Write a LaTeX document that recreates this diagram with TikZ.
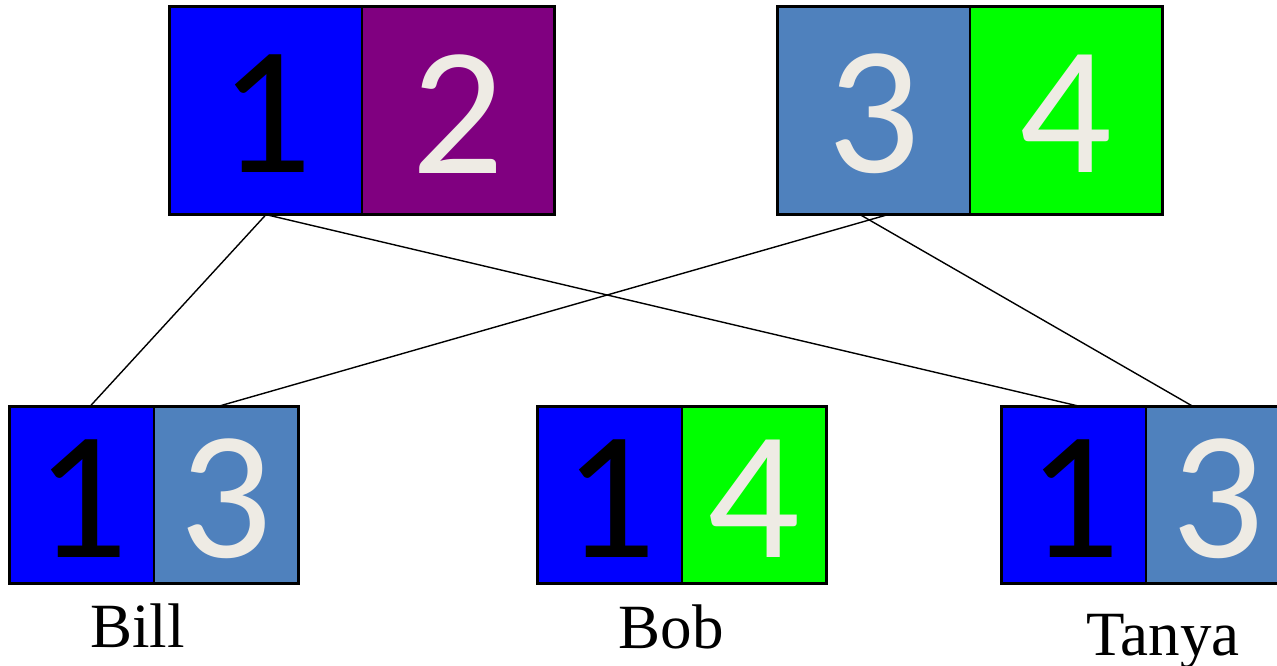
\documentclass[tikz,border=0pt]{standalone}
\usepackage{fontspec}
\setmainfont{Liberation Serif}
\newfontfamily\digitfont{Carlito}
\definecolor{cellblue}{RGB}{0,0,255}
\definecolor{cellpurple}{RGB}{128,0,128}
\definecolor{cellsteel}{RGB}{79,129,189}
\definecolor{cellgreen}{RGB}{0,255,0}
\definecolor{digitwhite}{RGB}{238,235,228}

\begin{document}
\begin{tikzpicture}[x=1pt,y=-1pt,
  bigcell/.style={draw=black,line width=1.2pt,inner sep=0pt,
    minimum width=192pt,minimum height=207pt},
  smallcell/.style={draw=black,line width=1.2pt,inner sep=0pt,
    minimum width=144pt,minimum height=176pt},
  digitlabel/.style={inner sep=0pt,font=\fontsize{183}{183}\digitfont,yshift=-3.5pt},
  boxframe/.style={draw=black,line width=2pt},
  linkline/.style={draw=black,line width=1.4pt},
  personlabel/.style={anchor=base,inner sep=0pt,font=\fontsize{63}{63}\selectfont}]
\clip (0,0) rectangle (1277,665);

% top pairs
\node[bigcell,fill=cellblue]   (a1) at (266,110.5) {};
\node[bigcell,fill=cellpurple] (a2) at (458,110.5) {};
\node[bigcell,fill=cellsteel]  (b1) at (874,110.5) {};
\node[bigcell,fill=cellgreen]  (b2) at (1066,110.5) {};
\draw[boxframe] (a1.north west) rectangle (a2.south east);
\draw[boxframe] (b1.north west) rectangle (b2.south east);
\node[digitlabel,text=black]      (da1) at (a1.center) {1};
\node[digitlabel,text=digitwhite] (da2) at (a2.center) {2};
\node[digitlabel,text=digitwhite] (db1) at (b1.center) {3};
\node[digitlabel,text=digitwhite] (db2) at (b2.center) {4};

% bottom pairs
\node[smallcell,fill=cellblue]  (bill1) at (82,495) {};
\node[smallcell,fill=cellsteel] (bill2) at (226,495) {};
\node[smallcell,fill=cellblue]  (bob1) at (610,495) {};
\node[smallcell,fill=cellgreen] (bob2) at (754,495) {};
\node[smallcell,fill=cellblue]  (tanya1) at (1074,495) {};
\node[smallcell,fill=cellsteel] (tanya2) at (1218,495) {};
\draw[boxframe] (bill1.north west) rectangle (bill2.south east);
\draw[boxframe] (bob1.north west) rectangle (bob2.south east);
\draw[boxframe] (tanya1.north west) rectangle (tanya2.south east);
\node[digitlabel,text=black]      (dbill1) at (bill1.center) {1};
\node[digitlabel,text=digitwhite] (dbill2) at (bill2.center) {3};
\node[digitlabel,text=black]      (dbob1) at (bob1.center) {1};
\node[digitlabel,text=digitwhite] (dbob2) at (bob2.center) {4};
\node[digitlabel,text=black]      (dtanya1) at (tanya1.center) {1};
\node[digitlabel,text=digitwhite] (dtanya2) at (tanya2.center) {3};

% names
\node[personlabel] (lbill)  at (137.5,647) {Bill};
\node[personlabel] (lbob)   at (671,648) {Bob};
\node[personlabel] (ltanya) at (1163,655) {Tanya};

% links
\draw[linkline] (a1.south) -- ([xshift=8pt]bill1.north);
\draw[linkline] (a1.south) -- ([xshift=6pt]tanya1.north);
\draw[linkline] ([xshift=14pt]b1.south) -- ([xshift=-8pt]bill2.north);
\draw[linkline] ([xshift=-14pt]b1.south) -- ([xshift=-25pt]tanya2.north);
\end{tikzpicture}
\end{document}
